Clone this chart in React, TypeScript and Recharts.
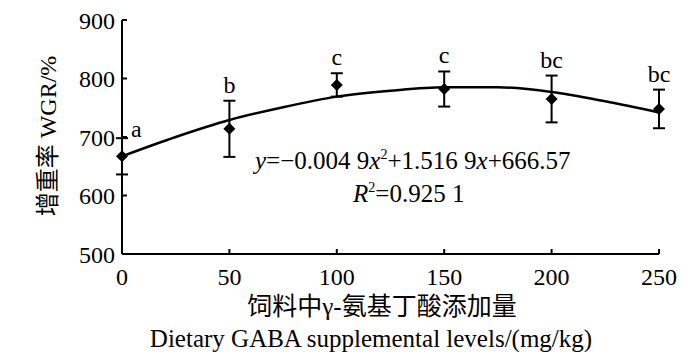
import { ComposedChart, Line, Scatter, ErrorBar, XAxis, YAxis } from 'recharts';

// dietary GABA dose (mg/kg) and weight gain rate
const doses = [0, 50, 100, 150, 200, 250];
const wgr = [667, 714, 789, 782, 765, 748];
const sd = [31, 48, 20, 30, 40, 33];
const letters = ['a', 'b', 'c', 'c', 'bc', 'bc'];

// fitted quadratic curve
const fitX = [0, 25, 50, 75, 100, 125, 150, 175, 200, 225, 250];
const fitY = [667, 700, 729, 751, 769, 779, 785, 785, 777, 761, 742];

const yTicks = [500, 600, 700, 800, 900];

const FONT = '"Liberation Serif", "Times New Roman", "Noto Sans CJK SC", serif';

const points = doses.map((d, i) => ({ x: d, y: wgr[i], err: sd[i] }));
const letterPts = doses.map((d, i) => ({ x: d, y: wgr[i] + sd[i], label: letters[i] }));
const fitData = fitX.map((x, i) => ({ x, y: fitY[i] }));

const Diamond = ({ cx, cy }: any) => (
  <polygon points={`${cx},${cy - 6} ${cx + 6},${cy} ${cx},${cy + 6} ${cx - 6},${cy}`} fill="#000" />
);

const LetterMark = ({ cx, cy, payload, index }: any) => {
  if (index === 0) {
    return (
      <text x={cx + 9} y={cy - 1} fontSize={24} fontFamily={FONT} fill="#000">
        {payload.label}
      </text>
    );
  }
  return (
    <text x={cx} y={cy - 8} textAnchor="middle" fontSize={24} fontFamily={FONT} fill="#000">
      {payload.label}
    </text>
  );
};

const tickStyle = { fontSize: 24, fontFamily: FONT, fill: '#000' };

export default function App() {
  return (
    <div style={{ position: 'absolute', left: 0, top: 0, width: 700, height: 352, background: '#fff' }}>
      <ComposedChart width={700} height={352} margin={{ top: 20, right: 41, bottom: 68, left: 0 }}>
        <XAxis
          type="number"
          dataKey="x"
          domain={[0, 250]}
          ticks={doses}
          height={30}
          tick={tickStyle}
          tickSize={-5}
          tickMargin={19}
          axisLine={{ stroke: '#000', strokeWidth: 2 }}
          tickLine={{ stroke: '#000', strokeWidth: 2 }}
        />
        <YAxis
          type="number"
          domain={[500, 900]}
          ticks={yTicks}
          width={122}
          tick={tickStyle}
          tickSize={-5}
          tickMargin={12}
          axisLine={{ stroke: '#000', strokeWidth: 2 }}
          tickLine={{ stroke: '#000', strokeWidth: 2 }}
        />
        <Line
          data={fitData}
          dataKey="y"
          type="monotone"
          stroke="#000"
          strokeWidth={2.5}
          dot={false}
          isAnimationActive={false}
        />
        <Scatter data={points} dataKey="y" shape={<Diamond />} isAnimationActive={false}>
          <ErrorBar dataKey="err" direction="y" width={6} stroke="#000" strokeWidth={2} />
        </Scatter>
        <Scatter data={letterPts} dataKey="y" shape={<LetterMark />} isAnimationActive={false} />
      </ComposedChart>
      <svg
        width={700}
        height={352}
        style={{ position: 'absolute', left: 0, top: 0, pointerEvents: 'none' }}
        fontFamily={FONT}
        fill="#000"
      >
        <text x={255} y={169} fontSize={25}>
          <tspan fontStyle="italic">y</tspan>=−0.004 9<tspan fontStyle="italic">x</tspan>
          <tspan fontSize={14} dy={-10}>2</tspan>
          <tspan dy={10}>+1.516 9</tspan>
          <tspan fontStyle="italic">x</tspan>+666.57
        </text>
        <text x={353} y={202} fontSize={25}>
          <tspan fontStyle="italic">R</tspan>
          <tspan fontSize={14} dy={-10}>2</tspan>
          <tspan dy={10}>=0.925 1</tspan>
        </text>
        <text x={382} y={315} fontSize={25} textAnchor="middle">
          饲料中γ-氨基丁酸添加量
        </text>
        <text x={371} y={347} fontSize={25} textAnchor="middle">
          Dietary GABA supplemental levels/(mg/kg)
        </text>
        <text x={56} y={136} fontSize={24} textAnchor="middle" transform="rotate(-90 56 136)">
          增重率 WGR/%
        </text>
      </svg>
    </div>
  );
}
